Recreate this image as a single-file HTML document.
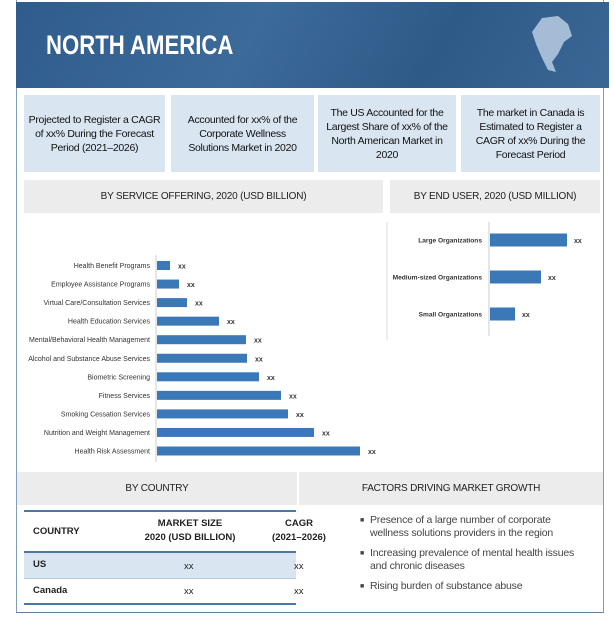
<!DOCTYPE html>
<html><head><meta charset="utf-8"><style>
body{margin:0;width:614px;height:619px;background:#fff;font-family:"Liberation Sans",sans-serif;position:relative;overflow:hidden}
.a{position:absolute}
.box{position:absolute;background:#d9e5f1;top:95px;height:77px;display:flex;align-items:center;justify-content:center;text-align:center;font-size:10.5px;color:#111;line-height:14px;letter-spacing:-0.3px}
.gbar{position:absolute;background:#ececec;display:flex;align-items:center;justify-content:center;font-size:10px;color:#222;letter-spacing:-0.2px}
svg text{font-family:"Liberation Sans",sans-serif}
.tb{font-size:9.5px;color:#222;position:absolute}
</style></head><body>
<div class="a" style="left:16px;top:0;width:588px;height:613px;border-left:1px solid #7f9fbf;border-right:1px solid #7f9fbf;border-bottom:1px solid #5f7f9f;box-sizing:border-box"></div>
<div class="a" style="left:16px;top:2px;width:593px;height:86px;background:linear-gradient(120deg,#2f5c8c 0%,#3c6a99 40%,#2e5a88 70%,#3b6796 100%)">
<div class="a" style="left:30px;top:28px;color:#fff;font-weight:bold;font-size:27px;transform:scaleX(0.82);transform-origin:left top">NORTH AMERICA</div>
<svg class="a" style="left:512px;top:12px" width="50" height="64"><path d="M14 4 L30 2 L40 10 L44 22 L36 28 L30 40 L24 48 L28 58 L20 56 L14 44 L8 30 L4 18 Z" fill="#b8cde3" opacity="0.85"/></svg>
</div>
<div class="box" style="left:24px;width:141px">Projected to Register a CAGR<br>of xx% During the Forecast<br>Period (2021–2026)</div>
<div class="box" style="left:171px;width:143px">Accounted for xx% of the<br>Corporate Wellness<br>Solutions Market in 2020</div>
<div class="box" style="left:318px;width:138px">The US Accounted for the<br>Largest Share of xx% of the<br>North American Market in<br>2020</div>
<div class="box" style="left:461px;width:139px">The market in Canada is<br>Estimated to Register a<br>CAGR of xx% During the<br>Forecast Period</div>
<div class="gbar" style="left:24px;top:180px;width:359px;height:33px">BY SERVICE OFFERING, 2020 (USD BILLION)</div>
<div class="gbar" style="left:390px;top:180px;width:210px;height:33px">BY END USER, 2020 (USD MILLION)</div>
<svg class="a" id="c1" style="left:0;top:0" width="614" height="619"></svg>
<div class="gbar" style="left:17px;top:472px;width:280px;height:33px">BY COUNTRY</div>
<div class="gbar" style="left:299px;top:472px;width:304px;height:33px">FACTORS DRIVING MARKET GROWTH</div>
<div class="a" style="left:24px;top:510px;width:272px;height:2px;background:#4a76a8"></div>
<div class="a" style="left:24px;top:551px;width:272px;height:2px;background:#4a76a8"></div>
<div class="a" style="left:24px;top:553px;width:272px;height:25px;background:#d9e5f1;border-bottom:1px solid #b7cbe0"></div>
<div class="a" style="left:24px;top:603px;width:272px;height:2px;background:#4a76a8"></div>
<div class="tb" style="left:33px;top:526px;font-weight:bold">COUNTRY</div>
<div class="tb" style="left:130px;top:517px;width:120px;text-align:center;line-height:14px;font-weight:bold">MARKET SIZE<br>2020 (USD BILLION)</div>
<div class="tb" style="left:256px;top:517px;width:86px;text-align:center;line-height:14px;font-weight:bold">CAGR<br>(2021–2026)</div>
<div class="tb" style="left:33px;top:559px;font-weight:bold">US</div>
<div class="tb" style="left:184px;top:561px">xx</div>
<div class="tb" style="left:294px;top:561px">xx</div>
<div class="tb" style="left:33px;top:585px;font-weight:bold">Canada</div>
<div class="tb" style="left:184px;top:586px">xx</div>
<div class="tb" style="left:294px;top:586px">xx</div>
<div class="a" style="left:360px;top:514px;width:228px;font-size:10.5px;color:#444;line-height:13px;letter-spacing:-0.2px">
<div style="position:relative;padding-left:10px;margin-bottom:7px"><span style="position:absolute;left:0;font-size:7px">■</span>Presence of a large number of corporate wellness solutions providers in the region</div>
<div style="position:relative;padding-left:10px;margin-bottom:7px"><span style="position:absolute;left:0;font-size:7px">■</span>Increasing prevalence of mental health issues and chronic diseases</div>
<div style="position:relative;padding-left:10px"><span style="position:absolute;left:0;font-size:7px">■</span>Rising burden of substance abuse</div>
</div>
<script>
const serviceCats=["Health Benefit Programs","Employee Assistance Programs","Virtual Care/Consultation Services","Health Education Services","Mental/Behavioral Health Management","Alcohol and Substance Abuse Services","Biometric Screening","Fitness Services","Smoking Cessation Services","Nutrition and Weight Management","Health Risk Assessment"];
const serviceVals=[13,22,30,62,89,90,102,124,131,157,203];
const userCats=["Large Organizations","Medium-sized Organizations","Small Organizations"];
const userVals=[77,51,25];
const valueLabel="xx";
const svg=document.getElementById('c1');
const NS='http://www.w3.org/2000/svg';
function mk(t,a){const e=document.createElementNS(NS,t);for(const k in a)e.setAttribute(k,a[k]);svg.appendChild(e);return e;}
const x0=156,xScale=v=>x0+v,yTop=265.5,step=18.55;
const ax=mk('line',{x1:x0,y1:255,x2:x0,y2:462,stroke:'#ccc'});


serviceCats.forEach((c,i)=>{const y=yTop+i*step;
 const r=mk('rect',{x:x0+1,y:y-4.5,width:xScale(serviceVals[i])-x0,height:9,fill:'#3a78b8'});
 
 
 const t=mk('text',{x:x0-6,y:y+2.5,'text-anchor':'end','font-size':'7','textLength':'',fill:'#333'});t.textContent=c;t.removeAttribute('textLength');
 
 
 const v=mk('text',{x:xScale(serviceVals[i])+9,y:y+3,'font-size':'7','font-weight':'bold',fill:'#333'});v.textContent=valueLabel;
 
 
});
const ux0=489,uScale=v=>ux0+v,uTop=240,ustep=37;
const ax2=mk('line',{x1:ux0,y1:222,x2:ux0,y2:336,stroke:'#ccc'});


const sep=mk('line',{x1:387,y1:222,x2:387,y2:340,stroke:'#ddd'});


userCats.forEach((c,i)=>{const y=uTop+i*ustep;
 const r=mk('rect',{x:ux0+1,y:y-6.5,width:uScale(userVals[i])-ux0,height:13,fill:'#3a78b8'});
 
 
 const t=mk('text',{x:ux0-7,y:y+2.5,'text-anchor':'end','font-size':'6.6','font-weight':'bold',fill:'#333'});t.textContent=c;
 
 
 const v=mk('text',{x:uScale(userVals[i])+8,y:y+3,'font-size':'7','font-weight':'bold',fill:'#333'});v.textContent=valueLabel;
 
 
});
</script>
</body></html>
